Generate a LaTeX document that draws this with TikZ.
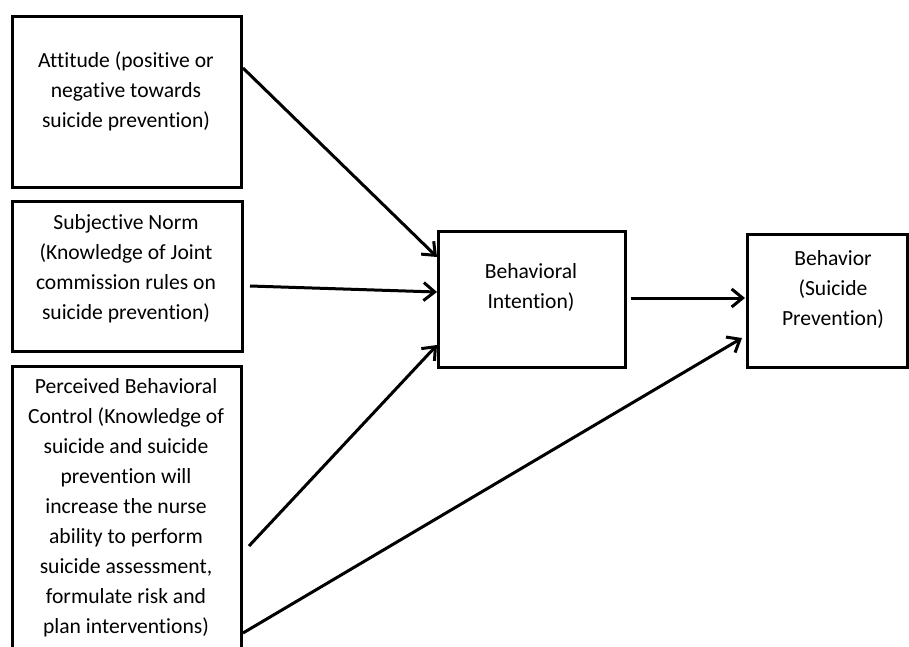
\documentclass[tikz,border=0pt]{standalone}
\usepackage{fontspec}
\setmainfont{Carlito}[Ligatures={NoCommon}]
\usetikzlibrary{arrows.meta}
\begin{document}
\begin{tikzpicture}[x=1pt,y=-1pt,
  box/.style={draw,line width=3pt,inner sep=0pt},
  txt/.style={align=center,font=\fontsize{21.6}{30}\selectfont,inner sep=0pt},
  arr/.style={line width=3pt,-{Straight Barb[length=11pt,width=18pt,line width=3pt]}}]
\useasboundingbox (0,0) rectangle (909,646);
\clip (0,0) rectangle (909,646);
% boxes
\node[box,minimum width=229pt,minimum height=171pt] (att) at (126.5,101.5) {};
\node[box,minimum width=230pt,minimum height=150pt] (sn) at (127.5,276) {};
\node[box,minimum width=229pt,minimum height=300pt] (pbc) at (126.5,516) {};
\node[box,minimum width=187pt,minimum height=136pt] (bi) at (531.5,299) {};
\node[box,minimum width=160pt,minimum height=133pt] (beh) at (827,300.5) {};
% texts
\node[txt] (tatt) at (126,91) {Attitude (positive or\\negative towards\\suicide prevention)};
\node[txt] (tsn) at (126,269) {Subjective Norm\\(Knowledge of Joint\\commission rules on\\suicide prevention)};
\node[txt] (tpbc) at (126,508) {Perceived Behavioral\\Control (Knowledge of\\suicide and suicide\\prevention will\\increase the nurse\\ability to perform\\suicide assessment,\\formulate risk and\\plan interventions)};
\node[txt] (tbi) at (531,287) {Behavioral\\Intention)};
\node[txt] (tbeh) at (833,289) {Behavior\\(Suicide\\Prevention)};
% arrow endpoints
\coordinate (a1s) at (243,68);  \coordinate (a1e) at (437,257);
\coordinate (a2s) at (250,286); \coordinate (a2e) at (437,292);
\coordinate (a3s) at (249,546); \coordinate (a3e) at (437,345);
\coordinate (a4s) at (243,633); \coordinate (a4e) at (742,338);
\coordinate (a5s) at (631,298); \coordinate (a5e) at (745,298);
\draw[arr] (a1s) -- (a1e);
\draw[arr] (a2s) -- (a2e);
\draw[arr] (a3s) -- (a3e);
\draw[arr] (a4s) -- (a4e);
\draw[arr] (a5s) -- (a5e);
\end{tikzpicture}
\end{document}
